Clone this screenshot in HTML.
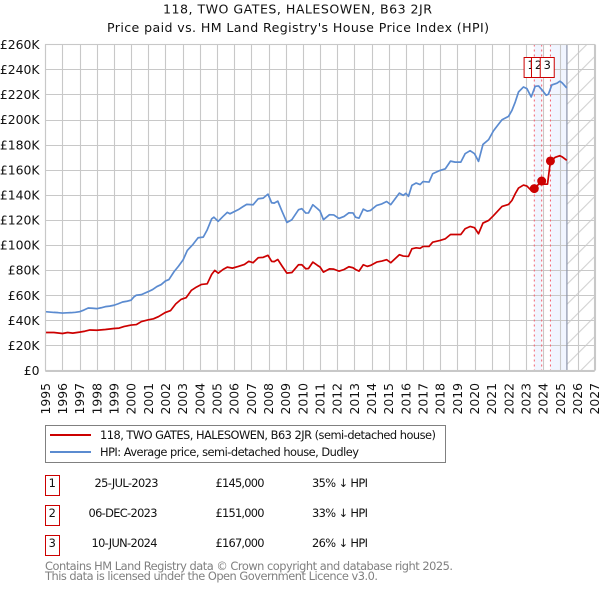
<!DOCTYPE html>
<html>
<head>
<meta charset="utf-8">
<title>118, TWO GATES, HALESOWEN, B63 2JR</title>
<style>
html,body{margin:0;padding:0;background:#fff;width:600px;height:590px;overflow:hidden}
svg{display:block;font-family:"DejaVu Sans",sans-serif}
</style>
</head>
<body>
<svg id="chart" width="600" height="590" viewBox="0 0 600 590">
<defs>
<pattern id="hatch" patternUnits="userSpaceOnUse" width="20" height="20" patternTransform="translate(567.3 44)">
<path d="M0 20L20 0M-2 2L2 -2M18 22L22 18" stroke="#cfcfcf" stroke-width="1" fill="none"/>
</pattern>
</defs>
<text x="297.5" y="13.5" text-anchor="middle" font-size="12.6" fill="#111" textLength="269">118, TWO GATES, HALESOWEN, B63 2JR</text>
<text x="298" y="32" text-anchor="middle" font-size="12.6" fill="#111" textLength="382">Price paid vs. HM Land Registry's House Price Index (HPI)</text>
<g id="plot"></g>
<g id="legend">
<rect x="45.5" y="425.5" width="400" height="37" fill="#fff" stroke="#808080" stroke-width="1"/>
<line x1="50" x2="91" y1="435" y2="435" stroke="#cc0000" stroke-width="2"/>
<text x="100" y="439" font-size="11.4" fill="#111" textLength="336">118, TWO GATES, HALESOWEN, B63 2JR (semi-detached house)</text>
<line x1="50" x2="91" y1="452" y2="452" stroke="#5b8bd0" stroke-width="2"/>
<text x="100" y="456" font-size="11.4" fill="#111" textLength="259">HPI: Average price, semi-detached house, Dudley</text>
</g>
<g id="sales-table" font-size="11.4" fill="#111">
<rect x="45.5" y="475.5" width="14" height="20" fill="#fff" stroke="#cc0000" stroke-width="1"/>
<text x="52.3" y="487" text-anchor="middle">1</text>
<text x="158.5" y="487" text-anchor="end" textLength="64">25-JUL-2023</text>
<text x="215.5" y="487" textLength="49">£145,000</text>
<text x="312" y="487" textLength="56">35% ↓ HPI</text>
<rect x="45.5" y="505.5" width="14" height="20" fill="#fff" stroke="#cc0000" stroke-width="1"/>
<text x="52.3" y="517" text-anchor="middle">2</text>
<text x="157.5" y="517" text-anchor="end" textLength="69">06-DEC-2023</text>
<text x="215.5" y="517" textLength="49">£151,000</text>
<text x="312" y="517" textLength="56">33% ↓ HPI</text>
<rect x="45.5" y="535.5" width="14" height="20" fill="#fff" stroke="#cc0000" stroke-width="1"/>
<text x="52.3" y="547" text-anchor="middle">3</text>
<text x="157.5" y="547" text-anchor="end" textLength="66">10-JUN-2024</text>
<text x="215.5" y="547" textLength="49">£167,000</text>
<text x="312" y="547" textLength="56">26% ↓ HPI</text>
</g>
<text x="45" y="570" font-size="11.4" fill="#808080" textLength="408">Contains HM Land Registry data © Crown copyright and database right 2025.</text>
<text x="45" y="580" font-size="11.4" fill="#808080" textLength="333">This data is licensed under the Open Government Licence v3.0.</text>
</svg>
<script>
const yTicks = [0,20,40,60,80,100,120,140,160,180,200,220,240,260];
const xTicks = [1995,1996,1997,1998,1999,2000,2001,2002,2003,2004,2005,2006,2007,2008,2009,2010,2011,2012,2013,2014,2015,2016,2017,2018,2019,2020,2021,2022,2023,2024,2025,2026,2027];

const hpiYears = [1995,1995.25,1995.5,1995.75,1996,1996.25,1996.5,1996.75,1997,1997.25,1997.5,1997.75,1998,1998.25,1998.5,1998.75,1999,1999.25,1999.5,1999.75,2000,2000.15,2000.3,2000.6,2001,2001.25,2001.5,2001.75,2002,2002.2,2002.5,2002.75,2003.03,2003.27,2003.6,2003.9,2004.2,2004.43,2004.69,2004.82,2005.07,2005.35,2005.6,2005.75,2006.24,2006.5,2006.73,2007.1,2007.4,2007.69,2007.97,2008.18,2008.33,2008.54,2008.8,2009.07,2009.36,2009.75,2009.94,2010.17,2010.33,2010.58,2010.85,2011,2011.2,2011.55,2011.8,2012.1,2012.4,2012.68,2012.92,2013.07,2013.27,2013.52,2013.75,2013.94,2014.3,2014.6,2014.88,2015.12,2015.62,2015.85,2016,2016.15,2016.35,2016.6,2016.83,2017,2017.35,2017.56,2017.99,2018.3,2018.6,2018.87,2019.2,2019.45,2019.74,2020,2020.23,2020.49,2020.82,2021.1,2021.35,2021.6,2021.98,2022.18,2022.37,2022.56,2022.85,2023.05,2023.3,2023.53,2023.73,2023.98,2024.17,2024.3,2024.5,2024.8,2024.97,2025.1,2025.37];
const hpiValues = [46.9,46.6,46.3,46.1,45.8,46,46.1,46.4,46.9,48.2,49.8,49.6,49.3,50,50.9,51.3,52,53.2,54.6,55.2,56.1,58.5,60,60.5,62.9,64.5,66.9,68.5,71.4,72.5,78.8,83,88.3,95.7,100.5,105.8,106.3,112.1,120.9,122.2,118.9,122.8,126,124.9,128.2,130.5,132.4,132.1,136.9,137.4,140.6,133.7,133.4,135,126.5,118,120.2,128.2,129,125.5,125.6,132.1,129,127.1,120.2,124.2,124,121.2,122.8,125.7,125.6,122.2,121.4,128.6,127,127.6,131.6,132.8,134.7,132.2,141.4,139.6,141.2,138.8,147.6,149.4,148.2,150.6,150.2,156.8,159.5,160.8,166.9,166.1,166.1,172.8,175.2,172.8,166.7,180.2,184,191,195.5,199.9,202.6,207.4,214,222,226,224.7,218,226.5,226.8,222.8,219.4,220.2,227.6,229,230.6,229.3,225.2];

const paidYears = [1995,1995.5,1996,1996.3,1996.6,1997,1997.3,1997.6,1998,1998.5,1999,1999.3,1999.6,2000,2000.3,2000.6,2001,2001.3,2001.6,2002,2002.3,2002.6,2002.9,2003.2,2003.5,2003.8,2004.1,2004.43,2004.69,2004.87,2005.07,2005.35,2005.6,2005.9,2006.24,2006.6,2006.85,2007.1,2007.4,2007.69,2007.97,2008.18,2008.33,2008.54,2008.8,2009.07,2009.36,2009.75,2009.94,2010.17,2010.33,2010.58,2010.85,2011,2011.2,2011.55,2011.8,2012.1,2012.4,2012.68,2012.92,2013.07,2013.27,2013.52,2013.75,2013.94,2014.3,2014.6,2014.88,2015.12,2015.62,2015.85,2016.15,2016.35,2016.6,2016.83,2017,2017.35,2017.56,2017.99,2018.3,2018.6,2018.87,2019.2,2019.45,2019.74,2020,2020.23,2020.49,2020.82,2021.1,2021.6,2021.98,2022.18,2022.37,2022.56,2022.85,2023.05,2023.3,2023.48,2023.7,2023.91,2024,2024.25,2024.42,2024.7,2024.97,2025.1,2025.37];
const paidValues = [30.3,30.3,29.5,30.3,29.8,30.6,31.3,32.3,32.1,32.7,33.5,33.8,35.1,36.2,36.6,39,40.4,41.2,43,46.3,47.8,53.1,56.6,58,63.8,66.5,68.6,69.1,76.6,79.8,77.6,80.5,82.4,81.6,82.9,84.5,87,85.9,89.9,90.2,91.8,87,86.8,88.5,83,77.6,78.1,84.3,84.3,81.1,81.3,86.4,83.8,82.5,78.4,81,80.8,79.2,80.5,82.7,81.9,80.5,79.2,84.3,83,83.7,86.4,87.2,88.3,85.9,92.3,91.2,90.9,97,97.8,97.4,98.9,98.9,102.3,103.7,105,108.4,108.4,108.4,113,114.8,113.8,109,117.5,119.6,123.4,130.8,132.4,135.6,140.9,145.4,147.8,147,143.6,145,148,151,148.5,148.5,167,169.9,171.2,170.3,167.5];

const saleLabels = ['1','2','3'];
const saleYears = [2023.48,2023.91,2024.42];
const salePrices = [145,151,167];

const shadeRanges = [[2023.48,2023.91],[2024.42,2025.38]];
const lastDataYear = 2025.38;

const NS = 'http://www.w3.org/2000/svg';
const plot = document.getElementById('plot');
const xAt = yr => 45.3 + (yr - 1995) * 17.17;
const yAt = k => 370.5 - k * 1.2546;
function mk(tag, attrs, parent) {
  const el = document.createElementNS(NS, tag);
  for (const key in attrs) el.setAttribute(key, attrs[key]);
  (parent || plot).appendChild(el);
  return el;
}

shadeRanges.forEach(r => {
  const el = mk('rect', {x: xAt(r[0]), y: 44.5, width: xAt(r[1]) - xAt(r[0]), height: 326, fill: '#f1f5ff'});
  
  
});
const hatchRect = mk('rect', {x: xAt(lastDataYear), y: 44.5, width: 594.7 - xAt(lastDataYear), height: 326, fill: 'url(#hatch)'});



yTicks.forEach(t => {
  const y = Math.round(yAt(t)) + 0.5;
  const g = mk('line', {x1: 45.3, x2: 594.7, y1: y, y2: y, stroke: '#c8c8c8', 'stroke-width': 1.1});
  
  
  const lab = mk('text', {x: 39.5, y: yAt(t) + 4.6, 'text-anchor': 'end', 'font-size': 12.4, fill: '#111'});
  lab.textContent = t === 0 ? '£0' : '£' + t + 'K';
  
  
});
xTicks.forEach(t => {
  const x = Math.round(xAt(t)) + 0.5;
  const g = mk('line', {x1: x, x2: x, y1: 44.5, y2: 370.5, stroke: '#c8c8c8', 'stroke-width': 1.1});
  
  
  const lab = mk('text', {x: 0, y: 0, 'text-anchor': 'start', 'font-size': 12.4, fill: '#111', transform: 'translate(' + (xAt(t) + 4.5) + ' 382.5) rotate(-90) translate(-32 0)'});
  lab.textContent = t;
  
  
});

const endLine = mk('line', {x1: xAt(lastDataYear), x2: xAt(lastDataYear), y1: 44.5, y2: 370.5, stroke: '#8a93a8', 'stroke-width': 1.2});



saleYears.forEach(yr => {
  const v = mk('line', {x1: xAt(yr), x2: xAt(yr), y1: 44.5, y2: 370.5, stroke: '#f4606e', 'stroke-width': 1, 'stroke-dasharray': '2 3'});
  
  
});

function pathOf(xs, ys) {
  return xs.map((yr, i) => (i ? 'L' : 'M') + xAt(yr).toFixed(2) + ' ' + yAt(ys[i]).toFixed(2)).join('');
}
const hpiLine = mk('path', {d: pathOf(hpiYears, hpiValues), fill: 'none', stroke: '#5b8bd0', 'stroke-width': 1.7, 'stroke-linejoin': 'round'});


const paidLine = mk('path', {d: pathOf(paidYears, paidValues), fill: 'none', stroke: '#cc0000', 'stroke-width': 1.7, 'stroke-linejoin': 'round'});



saleYears.forEach((yr, i) => {
  const dot = mk('circle', {cx: xAt(yr), cy: yAt(salePrices[i]), r: 4.5, fill: '#cc0000'});
  
  
});

saleYears.forEach((yr, i) => {
  const cx = xAt(yr) - 3.2;
  const box = mk('rect', {x: cx - 7, y: 57.5, width: 14, height: 20, fill: '#fff', stroke: '#cc0000', 'stroke-width': 1});
  
  
  const lab = mk('text', {x: cx, y: 69, 'text-anchor': 'middle', 'font-size': 11.4, fill: '#111'});
  lab.textContent = saleLabels[i];
  
  
});

const border = mk('rect', {x: 45.5, y: 44.5, width: 549, height: 326, fill: 'none', stroke: '#c8c8c8', 'stroke-width': 1.1});


</script>
</body>
</html>
